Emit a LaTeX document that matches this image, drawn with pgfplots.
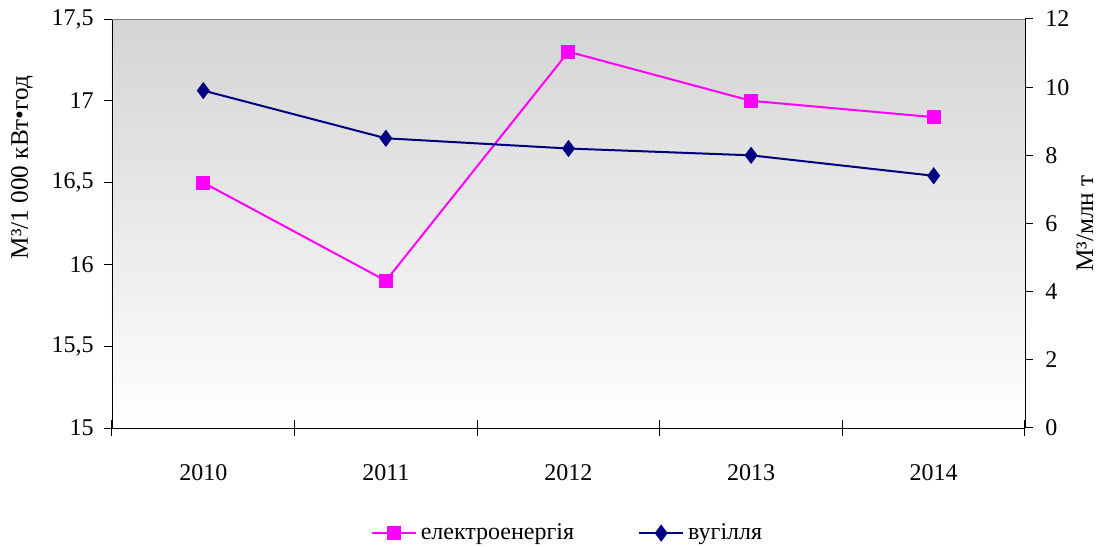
\documentclass[border=0pt]{standalone}
\usepackage{pgfplots}
\pgfplotsset{compat=1.18}
\usepackage{fontspec}
\setmainfont{Liberation Serif}
\definecolor{elec}{HTML}{FF00FF}
\definecolor{coal}{HTML}{000080}
\definecolor{bgtop}{HTML}{D4D4D4}
\begin{document}
\fontsize{12}{14}\selectfont
\begin{tikzpicture}
\useasboundingbox (-56pt,-59.5pt) rectangle (494pt,214pt);
\pgfplotsset{
  common/.style={
    scale only axis, width=456.5pt, height=204.5pt,
    at={(0,0)}, anchor=south west,
    xmin=-0.5, xmax=4.5,
    /pgf/number format/assume math mode=true,
    tick label style={font=\fontsize{12}{14}\selectfont},
    label style={font=\fontsize{12.6}{14}\selectfont},
    tick style={black, line width=0.5pt},
  }
}
\begin{axis}[common,
  axis x line*=bottom, axis y line*=left,
  axis background/.style={shade, top color=bgtop, bottom color=white},
  ymin=15, ymax=17.5,
  ytick={15,15.5,16,16.5,17,17.5},
  yticklabels={15,{15,5},16,{16,5},17,{17,5}},
  y tick label style={xshift=-1pt},
  xtick={0,1,2,3,4},
  xticklabels={2010,2011,2012,2013,2014},
  major x tick style={draw=none},
  minor xtick={-0.5,0.5,1.5,2.5,3.5,4.5},
  minor tick length=8pt,
  every minor tick/.style={yshift=4pt},
  xticklabel style={yshift=-10pt},
  major tick length=4pt,
  ytick pos=left, tick align=outside,
  ylabel={М³/1 000 кВт•год},
  ylabel style={at={(axis description cs:-0.0986,0.637)}, anchor=center},
  legend style={at={(axis description cs:0.5,-0.257)}, anchor=center,
    draw=none, fill=none, legend columns=2,
    font=\fontsize{12}{14}\selectfont,
    /tikz/every even column/.append style={column sep=30pt}},
  legend image code/.code={
    \draw[mark repeat=2,mark phase=2] plot coordinates {(0pt,0pt)(11pt,0pt)(22pt,0pt)};},
]
\draw[gray, line width=0.8pt] (rel axis cs:0,1) -- (rel axis cs:1,1);
\addplot[color=elec, line width=1pt, mark=square*, mark size=3pt,
  mark options={solid, fill=elec}]
  coordinates {(0,16.5) (1,15.9) (2,17.3) (3,17.0) (4,16.9)};
\addlegendentry{електроенергія}
\addlegendimage{color=coal, line width=1pt, mark=diamond*, mark size=3.5pt, mark options={solid, fill=coal}}
\addlegendentry{вугілля}
\end{axis}
\begin{axis}[common,
  axis x line=none, axis y line*=right,
  ymin=0, ymax=12,
  ytick={0,2,4,6,8,10,12},
  y tick label style={xshift=2pt},
  major tick length=4pt, tick align=outside,
  ylabel={М³/млн т},
  ylabel style={at={(axis description cs:1.0657,0.5)}, anchor=center},
]
\addplot[color=coal, line width=1pt, mark=diamond*, mark size=3.5pt,
  mark options={solid, fill=coal}]
  coordinates {(0,9.9) (1,8.5) (2,8.2) (3,8.0) (4,7.4)};
\end{axis}
\end{tikzpicture}
\end{document}
